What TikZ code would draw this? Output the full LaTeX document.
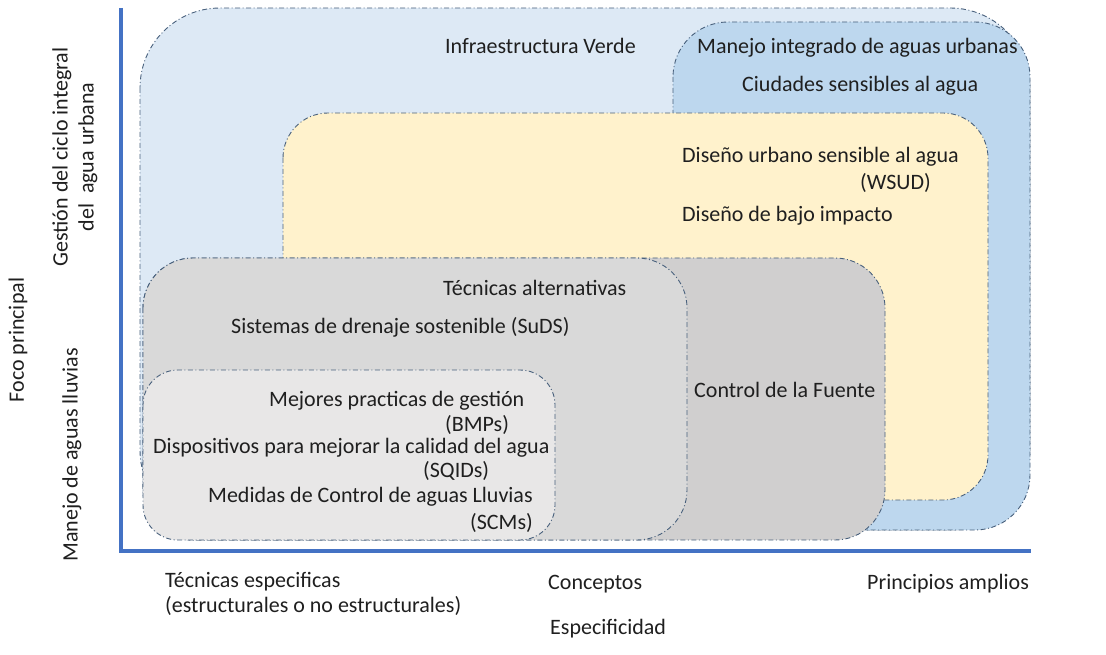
\documentclass[tikz,border=0pt]{standalone}
\usepackage{fontspec}
\setmainfont{Carlito}
\definecolor{axisblue}{RGB}{68,114,196}
\definecolor{edgegray}{RGB}{72,96,124}
\definecolor{verdeblue}{RGB}{221,233,245}
\definecolor{urbanblue}{RGB}{189,215,238}
\definecolor{wsudyellow}{RGB}{255,242,204}
\definecolor{fuentegray}{RGB}{208,207,207}
\definecolor{sudsgray}{RGB}{217,217,217}
\definecolor{bmpgray}{RGB}{232,231,231}
\begin{document}
\begin{tikzpicture}[x=1pt,y=-1pt,
  area/.style={draw=edgegray,line width=0.9pt,dash pattern=on 5pt off 2.5pt on 1pt off 2.5pt},
  axis/.style={draw=axisblue,line width=3.5pt},
  lbl/.style={inner sep=0pt,font=\fontsize{22}{26}\selectfont,text=black!88},
  lblW/.style={lbl,anchor=base west},
  lblE/.style={lbl,anchor=base east},
  side/.style={lbl,rotate=90,align=center}]
\useasboundingbox (0,0) rectangle (1106,655);

% areas, back to front
\draw[area,fill=verdeblue,rounded corners=80pt] (140,8) rectangle (1030,530);
\draw[area,fill=urbanblue,rounded corners=55pt] (673,22) rectangle (1030,530);
\draw[area,fill=wsudyellow,rounded corners=45pt] (283,113) rectangle (988,500);
\draw[area,fill=fuentegray,rounded corners=50pt] (143,258) rectangle (885,540);
\draw[area,fill=sudsgray,rounded corners=50pt] (143,258) rectangle (687,540);
\draw[area,fill=bmpgray,rounded corners=35pt] (143,370) rectangle (555,540);

% axes
\coordinate (top) at (121,8);
\coordinate (org) at (121,551);
\coordinate (right) at (1031,551);
\draw[axis] (top) -- (org) -- (right);

% labels in the areas
\node[lblW] (verde) at (445,54) {Infraestructura Verde};
\node[lblW] (miau) at (697,54) {Manejo integrado de aguas urbanas};
\node[lblW] (csa) at (742,92) {Ciudades sensibles al agua};
\node[lblW] (dusa) at (682,163) {Diseño urbano sensible al agua};
\node[lblW] (wsud) at (860,190) {(WSUD)};
\node[lblW] (dbi) at (682,222) {Diseño de bajo impacto};
\node[lblW] (talt) at (443,295) {Técnicas alternativas};
\node[lblW] (suds) at (231,333) {Sistemas de drenaje sostenible (SuDS)};
\node[lblW] (fuente) at (694,397) {Control de la Fuente};
\node[lblW] (mpg) at (269,406) {Mejores practicas de gestión};
\node[lblW] (bmps) at (445,431) {(BMPs)};
\node[lblW] (disp) at (153,453) {Dispositivos para mejorar la calidad del agua};
\node[lblW] (sqids) at (423,477) {(SQIDs)};
\node[lblW] (medidas) at (208,502) {Medidas de Control de aguas Lluvias};
\node[lblE] (scms) at (533,529) {(SCMs)};

% axis labels
\node[side] (foco) at (18,340) {Foco principal};
\node[side] (gestion) at (75,157) {Gestión del ciclo integral\\del\ \ agua urbana};
\node[side] (lluvias) at (72,455) {Manejo de aguas lluvias};
\node[lblW] (tesp) at (165,587) {Técnicas especificas};
\node[lblW] (estr) at (165,612) {(estructurales o no estructurales)};
\node[lblW] (conc) at (548,589) {Conceptos};
\node[lblW] (princ) at (867,589) {Principios amplios};
\node[lblW] (espec) at (550,634) {Especificidad};
\end{tikzpicture}
\end{document}
